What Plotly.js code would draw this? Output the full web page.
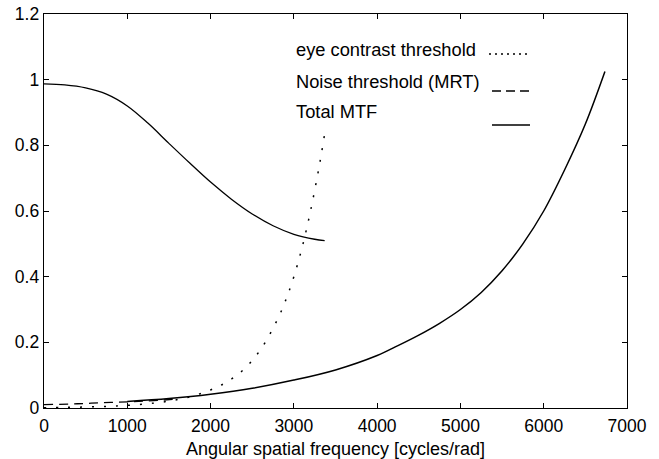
<!DOCTYPE html>
<html>
<head>
<meta charset="utf-8">
<script src="https://cdn.plot.ly/plotly-3.0.1.min.js"></script>
<style>html,body{margin:0;padding:0;background:#fff;}#chart{width:659px;height:459px;}</style>
</head>
<body>
<div id="chart"></div>
<script>
// Total MTF (upper curve)
const freqMTF = [0, 250, 500, 750, 1000, 1250, 1500, 1750, 2000, 2250, 2500, 2750, 3000, 3250, 3370];
const totalMTF = [0.987, 0.984, 0.975, 0.956, 0.920, 0.867, 0.806, 0.746, 0.688, 0.636, 0.591, 0.555, 0.529, 0.514, 0.510];

// Eye contrast threshold (dotted)
const freqEye = [0, 250, 500, 750, 1000, 1250, 1500, 1750, 2000, 2200, 2400, 2600, 2800, 2900, 3000, 3100, 3200, 3300, 3370];
const eyeThreshold = [0.001, 0.002, 0.003, 0.005, 0.008, 0.013, 0.021, 0.034, 0.055, 0.080, 0.118, 0.178, 0.268, 0.327, 0.400, 0.490, 0.600, 0.730, 0.835];

// Noise threshold (MRT), dashed low part
const freqNoise = [0, 400, 800, 1200, 1600];
const noiseThreshold = [0.010, 0.013, 0.017, 0.021, 0.027];

// Rising solid curve
const freqRise = [1000, 1500, 2000, 2500, 3000, 3500, 4000, 4250, 4500, 4750, 5000, 5250, 5500, 5750, 6000, 6250, 6500, 6735];
const riseValues = [0.020, 0.029, 0.042, 0.060, 0.085, 0.116, 0.160, 0.190, 0.222, 0.258, 0.300, 0.352, 0.418, 0.500, 0.600, 0.725, 0.865, 1.025];

const legendLabels = ["eye contrast threshold", "Noise threshold (MRT)", "Total MTF"];
const xTickVals = [0, 1000, 2000, 3000, 4000, 5000, 6000, 7000];
const yTickVals = [0, 0.2, 0.4, 0.6, 0.8, 1, 1.2];

const FONT = "Liberation Sans, Arial, Helvetica, sans-serif";
const lw = 1.3;

const traces = [
  {x: freqMTF, y: totalMTF, name: legendLabels[2], mode: "lines",
   line: {color: "#000", width: lw, shape: "spline", smoothing: 1}, showlegend: false},
  {x: freqEye, y: eyeThreshold, name: legendLabels[0], mode: "lines",
   line: {color: "#000", width: lw + 0.2, dash: "2px,10px", shape: "spline", smoothing: 1}, showlegend: false},
  {x: freqNoise, y: noiseThreshold, name: legendLabels[1], mode: "lines",
   line: {color: "#000", width: lw, dash: "9px,6px", shape: "spline"}, showlegend: false},
  {x: freqRise, y: riseValues, name: "rising curve", mode: "lines",
   line: {color: "#000", width: lw + 0.2, shape: "spline", smoothing: 1}, showlegend: false}
];

const L = 44, R = 627, T = 14, B = 408;
const W = R - L, H = B - T;
function px(xp) { return (xp - L) / W; }
function py(yp) { return (B - yp) / H; }

const textRows = [49.5, 81, 112];
const sampleRows = [54, 91, 125];
const annotations = legendLabels.map((t, i) => ({
  text: t, xref: "paper", yref: "paper", x: px(294), y: py(textRows[i]),
  xanchor: "left", yanchor: "middle", showarrow: false,
  font: {family: FONT, size: 18.3, color: "#000"}
}));
const dashes = ["2px,4px", "9px,5px", "solid"];
const shapes = sampleRows.map((r, i) => ({
  type: "line", xref: "paper", yref: "paper",
  x0: px(i === 0 ? 489 : 492), x1: px(530), y0: py(r), y1: py(r),
  line: {color: "#000", width: lw, dash: dashes[i]}
}));

const axisCommon = {
  showgrid: false, zeroline: false, showline: true, linecolor: "#000", linewidth: 1.3,
  mirror: "ticks", ticks: "inside", ticklen: 5, tickwidth: 1, tickcolor: "#000",
  tickfont: {family: FONT, size: 17.5, color: "#000"}
};

const layout = {
  width: 659, height: 459,
  margin: {l: L, r: 659 - R, t: T, b: 459 - B, pad: 0},
  paper_bgcolor: "#fff", plot_bgcolor: "#fff",
  font: {family: FONT, color: "#000"},
  xaxis: Object.assign({}, axisCommon, {
    range: [0, 7000], tickvals: xTickVals, ticktext: xTickVals.map(String),
    ticklabelstandoff: 2,
    title: {text: "Angular spatial frequency [cycles/rad]", font: {family: FONT, size: 18, color: "#000"}, standoff: 9}
  }),
  yaxis: Object.assign({}, axisCommon, {
    range: [0, 1.2], tickvals: yTickVals, ticktext: yTickVals.map(String)
  }),
  annotations: annotations,
  shapes: shapes,
  showlegend: false
};

Plotly.newPlot("chart", traces, layout, {displayModeBar: false, staticPlot: true});
</script>
</body>
</html>
